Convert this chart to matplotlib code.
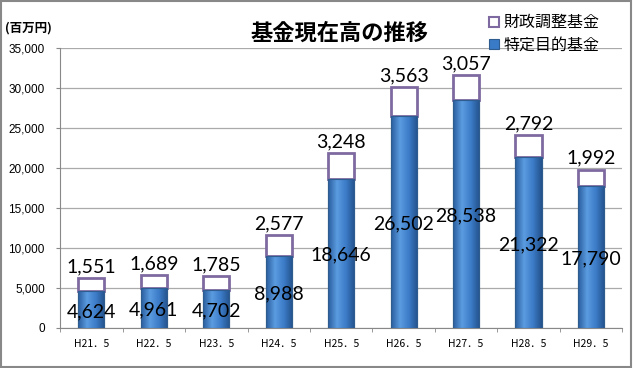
import matplotlib
matplotlib.use("Agg")
import matplotlib.pyplot as plt
import numpy as np
from matplotlib.patches import Rectangle
from matplotlib.colors import LinearSegmentedColormap

plt.rcParams['font.family'] = ['Noto Sans CJK JP', 'DejaVu Sans']

categories = ["H21．5", "H22．5", "H23．5", "H24．5", "H25．5", "H26．5", "H27．5", "H28．5", "H29．5"]
tokutei = [4624, 4961, 4702, 8988, 18646, 26502, 28538, 21322, 17790]
zaisei = [1551, 1689, 1785, 2577, 3248, 3563, 3057, 2792, 1992]
yticks = [0, 5000, 10000, 15000, 20000, 25000, 30000, 35000]

fig = plt.figure(figsize=(6.33, 3.68), dpi=100)
ax = fig.add_axes([0.095, 0.109, 0.888, 0.761])

x = np.arange(len(categories))
w = 0.42
blue_edge = "#2F5C8F"
purple = "#7E6AA0"
b1 = ax.bar(x, tokutei, width=w, color="#3A7BC8", edgecolor=blue_edge, linewidth=0.8, zorder=3)
b2 = ax.bar(x, zaisei, width=w, bottom=tokutei, color="white", edgecolor=purple, linewidth=2, zorder=3)

# horizontal gradient for blue bars
cmap = LinearSegmentedColormap.from_list("g", ["#2A5E9E", "#5B9BE0", "#3C7CC8", "#24528C"])
grad = np.linspace(0, 1, 64).reshape(1, -1)
for r in b1:
    bx, by = r.get_x(), r.get_y()
    bw, bh = r.get_width(), r.get_height()
    im = ax.imshow(grad, cmap=cmap, aspect='auto', extent=[bx, bx + bw, by, by + bh], zorder=3.5)
    im.set_clip_path(r)
    ax.add_patch(Rectangle((bx, by), bw, bh, fill=False, edgecolor=blue_edge, linewidth=0.8, zorder=3.6))

numfont = ['Lato', 'DejaVu Sans']
for xi, t, z in zip(x, tokutei, zaisei):
    ax.text(xi, t / 2 - 250, f"{t:,}", ha='center', va='center', fontsize=14, color='black', zorder=5,
            family=numfont)
    ax.text(xi, t + z + 350, f"{z:,}", ha='center', va='bottom', fontsize=14, color='black', zorder=5,
            family=numfont)

ax.set_xlim(-0.5, len(categories) - 0.5)
ax.set_ylim(0, 35000)
ax.set_yticks(yticks)
ax.set_yticklabels([f"{v:,}" for v in yticks], fontsize=8.5, family=['Liberation Sans', 'DejaVu Sans'])
ax.set_xticks(x)
ax.set_xticklabels(categories, fontsize=7.5)
ax.set_xticks(np.arange(-0.5, len(categories)), minor=True)
ax.tick_params(axis='x', which='major', length=0, pad=8)
ax.tick_params(axis='x', which='minor', length=3, color='#888888')
ax.tick_params(axis='y', length=3, color='#888888', pad=8)
ax.yaxis.grid(True, color='#AAAAAA', linewidth=0.9, zorder=0)
ax.set_axisbelow(True)
for s in ['top', 'right']:
    ax.spines[s].set_visible(False)
for s in ['left', 'bottom']:
    ax.spines[s].set_color('#888888')

fig.text(0.537, 0.91, "基金現在高の推移", ha='center', va='center', fontsize=16, fontweight='bold')
fig.text(0.008, 0.925, "(百万円)", ha='left', va='center', fontsize=9, fontweight='bold')

leg_handles = [Rectangle((0, 0), 1, 1, facecolor='white', edgecolor=purple, linewidth=1.5),
               Rectangle((0, 0), 1, 1, facecolor='#3A7BC8', edgecolor=blue_edge, linewidth=0.8)]
fig.legend(leg_handles, ["財政調整基金", "特定目的基金"], loc='upper right', bbox_to_anchor=(0.97, 1.0),
           frameon=False, fontsize=11.5, handlelength=0.6, handleheight=0.6, handletextpad=0.3, labelspacing=0.35)

fig.patches.append(Rectangle((0.002, 0.003), 0.995, 0.994, transform=fig.transFigure, fill=False,
                             edgecolor='#888888', linewidth=1.5))

fig.savefig("out.png", dpi=100)
